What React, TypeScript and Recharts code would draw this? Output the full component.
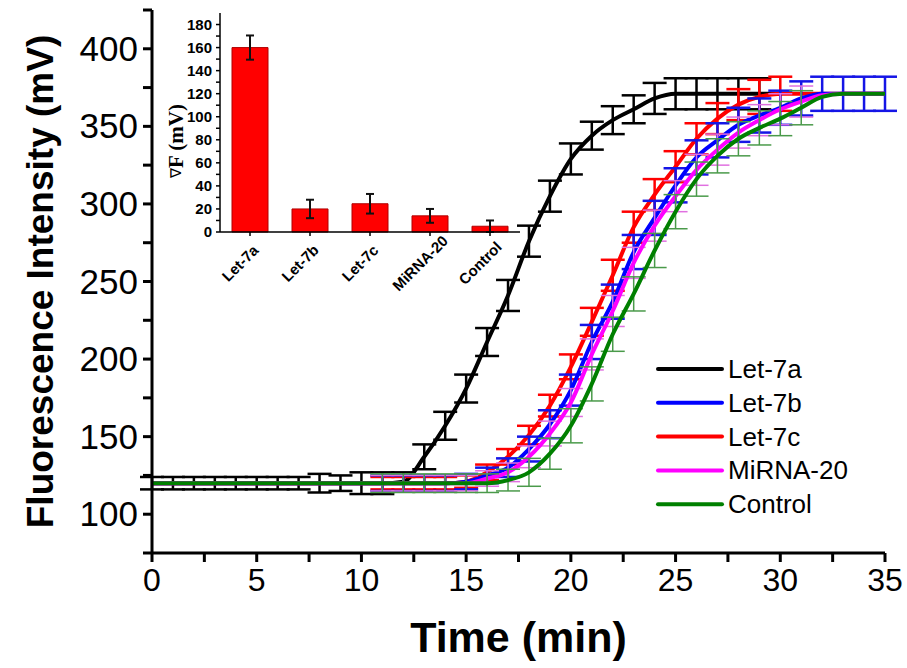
import React from "react";
import { Bar, BarChart, ErrorBar, Line, LineChart, XAxis, YAxis } from "recharts";

const SANS = "'Liberation Sans', Arial, sans-serif";

// main panel: time course, one point per minute
const times = [0, 1, 2, 3, 4, 5, 6, 7, 8, 9, 10, 11, 12, 13, 14, 15, 16, 17, 18, 19, 20, 21, 22, 23, 24, 25, 26, 27, 28, 29, 30, 31, 32, 33, 34, 35];

const let7a = [120, 120, 120, 120, 120, 120, 120, 120, 120, 120, 120, 120, 121, 137, 157, 181, 211, 241, 276, 305, 329, 344, 354, 361, 368, 371, 371, 371, 371, 371, 371];
const let7aErr = [4, 4, 4, 4, 4, 4, 4, 4, 6, 5, 7, 7, 6, 8, 9, 9, 9, 10, 10, 10, 10, 9, 9, 9, 10, 10, 10, 10, 10, 10];

const let7b = [120, 120, 120, 120, 120, 120, 120, 120, 120, 120, 120, 120, 120, 120, 120, 121, 125, 130, 142, 158, 180, 211, 237, 269, 291, 312, 330, 341, 351, 357, 362, 368, 371, 371, 371, 371];
const let7bErr = [null, null, null, null, null, null, null, null, null, null, null, 5, 5, 5, 5, 5, 5, 6, 8, 9, 10, 11, 11, 11, 11, 11, 11, 11, 11, 11, 11, 11, 11, 11, 11, 11];

const let7c = [120, 120, 120, 120, 120, 120, 120, 120, 120, 120, 120, 120, 120, 120, 120, 121, 127, 137, 151, 170, 195, 224, 254, 285, 306, 324, 342, 355, 364, 369, 371, 371, 371, 371, 371, 371];
const let7cErr = [null, null, null, null, null, null, null, null, null, null, null, 4, 4, 4, 4, 4, 5, 5, 6, 7, 8, 9, 10, 10, 10, 10, 10, 10, 10, 11, 11];

const mirna20 = [120, 120, 120, 120, 120, 120, 120, 120, 120, 120, 120, 120, 120, 120, 120, 120, 123, 127, 137, 152, 172, 203, 231, 262, 286, 305, 322, 335, 346, 354, 361, 366, 370, 371, 371, 371];
const mirna20Err = [null, null, null, null, null, null, null, null, null, null, null, 5, 5, 5, 5, 5, 5, 6, 7, 8, 9, 10, 10, 10, 10, 10, 10, 10, 10, 10, 10, 10];

const control = [120, 120, 120, 120, 120, 120, 120, 120, 120, 120, 120, 120, 120, 120, 120, 120, 120, 122, 127, 139, 157, 184, 216, 242, 270, 295, 316, 331, 342, 349, 355, 362, 369, 371, 371, 371];
const controlErr = [null, null, null, null, null, null, null, null, null, null, null, 6, 6, 6, 6, 6, 6, 7, 9, 10, 11, 11, 11, 11, 11, 11, 11, 11, 11, 11, 11, 11];

const xTicks = [0, 2.5, 5, 7.5, 10, 12.5, 15, 17.5, 20, 22.5, 25, 27.5, 30, 32.5, 35];
const yTicks = [75, 100, 125, 150, 175, 200, 225, 250, 275, 300, 325, 350, 375, 400, 425];

// inset: signal change per target
const insetCats = ["Let-7a", "Let-7b", "Let-7c", "MiRNA-20", "Control"];
const insetVals = [160, 20, 24.5, 14, 5];
const insetErrs = [10.5, 8, 8.5, 6, 5];
const insetTicks = [0, 10, 20, 30, 40, 50, 60, 70, 80, 90, 100, 110, 120, 130, 140, 150, 160, 170, 180];

const series = [
  { key: "a", name: "Let-7a", color: "#000000", err: "#000000", errW: 2.5 },
  { key: "c", name: "Let-7c", color: "#ff0000", err: "#ff0000", errW: 2.5 },
  { key: "b", name: "Let-7b", color: "#0000ff", err: "#1515e6", errW: 2.5 },
  { key: "m", name: "MiRNA-20", color: "#ff00ff", err: "#e070e0", errW: 1.5 },
  { key: "g", name: "Control", color: "#008000", err: "#4a9a4a", errW: 1.5 },
];
const legendOrder = ["a", "b", "c", "m", "g"];

const data = times.map((t, i) => ({
  t,
  a: let7a[i],
  aErr: let7aErr[i],
  b: let7b[i],
  bErr: let7bErr[i],
  c: let7c[i],
  cErr: let7cErr[i],
  m: mirna20[i],
  mErr: mirna20Err[i],
  g: control[i],
  gErr: controlErr[i],
}));

const insetData = insetCats.map((name, i) => ({ name, v: insetVals[i], e: insetErrs[i] }));

const XTick = (props: any) => {
  const { x, y, payload } = props;
  if (payload.value % 5 !== 0) return null;
  return (
    <text x={x} y={y} dy={27} textAnchor="middle" fontSize={32} fontFamily={SANS} fill="#000">
      {payload.value}
    </text>
  );
};

const YTick = (props: any) => {
  const { x, y, payload } = props;
  if (payload.value % 50 !== 0 || payload.value < 100 || payload.value > 400) return null;
  return (
    <text x={x - 3} y={y} dy={12} textAnchor="end" fontSize={35} fontFamily={SANS} fill="#000">
      {payload.value}
    </text>
  );
};

const YTitle = (props: any) => {
  const vb = props.viewBox;
  const cx = vb.x + 40;
  const cy = vb.y + vb.height / 2;
  return (
    <text x={cx} y={cy} transform={`rotate(-90, ${cx}, ${cy})`} textAnchor="middle" dominantBaseline="central" fontSize={37} fontWeight="bold" fontFamily={SANS}>
      Fluorescence Intensity (mV)
    </text>
  );
};

const XTitle = (props: any) => {
  const vb = props.viewBox;
  return (
    <text x={vb.x + vb.width / 2} y={vb.y + 99} textAnchor="middle" fontSize={43} fontWeight="bold" fontFamily={SANS}>
      Time (min)
    </text>
  );
};

const LegendBox = () => (
  <svg width={200} height={180} style={{ position: "absolute", left: 655, top: 352 }}>
    {legendOrder.map((k, i) => {
      const s = series.find((d) => d.key === k)!;
      const y = 17 + i * 33.8;
      return (
        <g key={k}>
          <line x1={3} x2={67} y1={y} y2={y} stroke={s.color} strokeWidth={4} strokeLinecap="round" />
          <text x={73} y={y + 9} fontSize={26} fontFamily={SANS} fill="#000">
            {s.name}
          </text>
        </g>
      );
    })}
  </svg>
);

const InsetXTick = (props: any) => {
  const { x, y, payload } = props;
  const cx = x - 10;
  const cy = y + 25;
  return (
    <text x={cx} y={cy} transform={`rotate(-45, ${cx}, ${cy})`} textAnchor="middle" dominantBaseline="central" fontSize={15} fontWeight="bold" fontFamily={SANS}>
      {payload.value}
    </text>
  );
};

const InsetYTick = (props: any) => {
  const { x, y, payload } = props;
  if (payload.value % 20 !== 0) return null;
  return (
    <text x={x} y={y} dy={5} textAnchor="end" fontSize={15} fontWeight="bold" fontFamily={SANS}>
      {payload.value}
    </text>
  );
};

const InsetYTitle = (props: any) => {
  const vb = props.viewBox;
  const cx = vb.x + 26;
  const cy = vb.y + 128;
  return (
    <text x={cx} y={cy} transform={`rotate(-90, ${cx}, ${cy})`} textAnchor="middle" dominantBaseline="central" fontSize={21} fontWeight="bold" fontFamily="'Liberation Serif', 'Times New Roman', serif">
      <tspan fontSize={15} fontWeight="normal">∇</tspan>F (mV)
    </text>
  );
};

export default function App() {
  const axisLine = { stroke: "#000", strokeWidth: 3 };
  const thin = { stroke: "#000", strokeWidth: 1.5 };
  return (
    <div style={{ position: "absolute", left: 0, top: 0, width: 907, height: 668, background: "#fff" }}>
      <LineChart width={907} height={668} data={data} margin={{ top: 10, right: 22, left: 0, bottom: 0 }}>
        <XAxis
          dataKey="t"
          type="number"
          domain={[0, 35]}
          ticks={xTicks}
          interval={0}
          height={115}
          axisLine={axisLine}
          tickLine={axisLine}
          tickSize={9}
          tick={<XTick />}
          label={<XTitle />}
        />
        <XAxis xAxisId="top" orientation="top" dataKey="t" type="number" domain={[0, 35]} height={0} tick={false} tickLine={false} axisLine={axisLine} />
        <YAxis
          type="number"
          domain={[75, 425]}
          ticks={yTicks}
          interval={0}
          width={152}
          axisLine={axisLine}
          tickLine={axisLine}
          tickSize={9}
          tick={<YTick />}
          label={<YTitle />}
        />
        <YAxis yAxisId="right" orientation="right" domain={[75, 425]} width={0} tick={false} tickLine={false} axisLine={axisLine} />
        {series.map((s) => (
          <Line
            key={s.key}
            dataKey={s.key}
            name={s.name}
            type="monotone"
            stroke={s.color}
            strokeWidth={4}
            dot={false}
            isAnimationActive={false}
          >
            <ErrorBar dataKey={`${s.key}Err`} direction="y" width={12} stroke={s.err} strokeWidth={s.errW} isAnimationActive={false} />
          </Line>
        ))}
      </LineChart>

      <LegendBox />

      <div style={{ position: "absolute", left: 150, top: 0 }}>
        <BarChart width={380} height={295} data={insetData} margin={{ top: 13, right: 10, left: 0, bottom: 0 }}>
          <XAxis dataKey="name" height={63} interval={0} axisLine={thin} tickLine={thin} tickSize={4} tickMargin={2} tick={<InsetXTick />} />
          <XAxis xAxisId="top" orientation="top" dataKey="name" height={0} tick={false} tickLine={false} axisLine={{ stroke: "#333", strokeWidth: 1.2 }} />
          <YAxis
            type="number"
            domain={[0, 190]}
            ticks={insetTicks}
            interval={0}
            width={70}
            axisLine={thin}
            tickLine={thin}
            tickSize={4}
            tickMargin={4}
            tick={<InsetYTick />}
            label={<InsetYTitle />}
          />
          <YAxis yAxisId="right" orientation="right" domain={[0, 190]} width={0} tick={false} tickLine={false} axisLine={{ stroke: "#333", strokeWidth: 1.2 }} />
          <Bar dataKey="v" fill="#ff0000" stroke="#b00000" strokeWidth={1} barSize={36} isAnimationActive={false}>
            <ErrorBar dataKey="e" direction="y" width={4} stroke="#111" strokeWidth={2} isAnimationActive={false} />
          </Bar>
        </BarChart>
      </div>
    </div>
  );
}
